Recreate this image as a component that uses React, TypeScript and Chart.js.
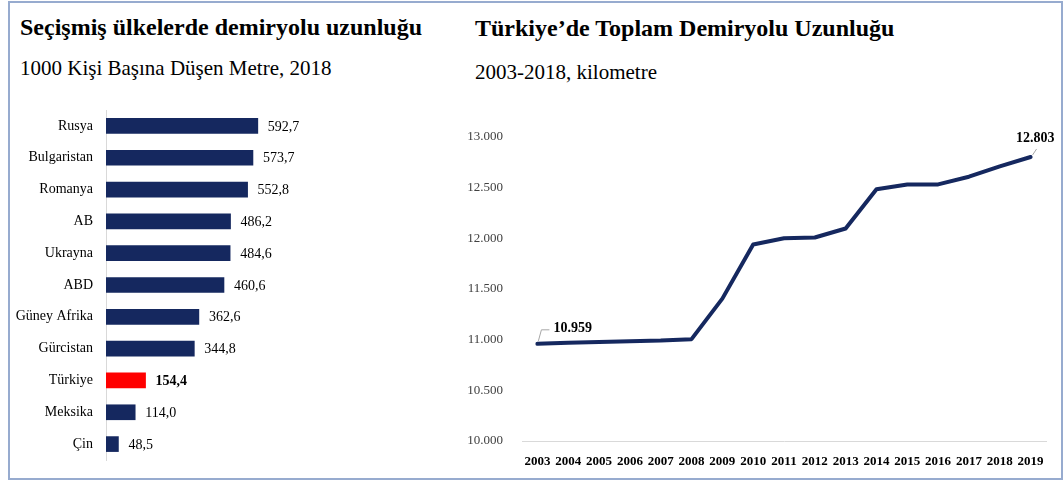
import React, { useEffect, useRef } from "react";
import { Chart, registerables } from "chart.js";

Chart.register(...registerables);

const countries = ["Rusya", "Bulgaristan", "Romanya", "AB", "Ukrayna", "ABD", "Güney Afrika", "Gürcistan", "Türkiye", "Meksika", "Çin"];
const metersPer1000 = [592.7, 573.7, 552.8, 486.2, 484.6, 460.6, 362.6, 344.8, 154.4, 114.0, 48.5];
const highlightCountry = "Türkiye";

const years = ["2003", "2004", "2005", "2006", "2007", "2008", "2009", "2010", "2011", "2012", "2013", "2014", "2015", "2016", "2017", "2018", "2019"];
const railKm = [10959, 10970, 10976, 10984, 10991, 11005, 11405, 11940, 12000, 12008, 12097, 12485, 12532, 12532, 12608, 12710, 12803];
const yTicks = [10000, 10500, 11000, 11500, 12000, 12500, 13000];

const NAVY = "#15285f";
const SERIF = "'Liberation Serif', 'Times New Roman', serif";

const fmtComma = (v: number) => v.toFixed(1).replace(".", ",");
const fmtDot = (v: number) => {
  const s = Math.round(v).toString();
  return s.replace(/\B(?=(\d{3})+(?!\d))/g, ".");
};

const barLabelPlugin = {
  id: "barLabels",
  afterDatasetsDraw(chart: any) {
    const { ctx } = chart;
    const meta = chart.getDatasetMeta(0);
    ctx.save();
    ctx.textBaseline = "middle";
    ctx.textAlign = "left";
    meta.data.forEach((bar: any, i: number) => {
      const bold = countries[i] === highlightCountry;
      ctx.font = `${bold ? "bold " : ""}14px ${SERIF}`;
      ctx.fillStyle = "#000";
      ctx.fillText(fmtComma(metersPer1000[i]), bar.x + 10, bar.y + 1);
    });
    ctx.restore();
  },
};

const lineLabelPlugin = {
  id: "lineLabels",
  afterDatasetsDraw(chart: any) {
    const { ctx } = chart;
    const meta = chart.getDatasetMeta(0);
    const first = meta.data[0];
    const last = meta.data[meta.data.length - 1];
    ctx.save();
    ctx.strokeStyle = "#a6a6a6";
    ctx.lineWidth = 1;
    ctx.beginPath();
    ctx.moveTo(first.x + 1, first.y - 3);
    ctx.lineTo(first.x + 4, first.y - 14);
    ctx.lineTo(first.x + 12, first.y - 14);
    ctx.stroke();
    ctx.beginPath();
    ctx.moveTo(last.x + 2, last.y - 2);
    ctx.lineTo(last.x + 6, last.y - 8);
    ctx.stroke();
    ctx.fillStyle = "#000";
    ctx.font = `bold 14px ${SERIF}`;
    ctx.textBaseline = "middle";
    ctx.textAlign = "left";
    ctx.fillText(fmtDot(railKm[0]), first.x + 16, first.y - 15);
    ctx.textAlign = "right";
    ctx.fillText(fmtDot(railKm[railKm.length - 1]), last.x + 24, last.y - 19);
    ctx.restore();
  },
};

export default function App() {
  const barRef = useRef<HTMLCanvasElement>(null);
  const lineRef = useRef<HTMLCanvasElement>(null);

  useEffect(() => {
    const bar = new Chart(barRef.current!, {
      type: "bar",
      data: {
        labels: countries,
        datasets: [
          {
            data: metersPer1000,
            backgroundColor: countries.map((c) => (c === highlightCountry ? "#ff0000" : NAVY)),
            barThickness: 15,
          },
        ],
      },
      options: {
        indexAxis: "y",
        animation: false,
        responsive: false,
        maintainAspectRatio: false,
        layout: { padding: { top: 10, bottom: 10, left: 0, right: 21 } },
        plugins: { legend: { display: false }, tooltip: { enabled: false } },
        scales: {
          x: { display: false, min: 0, max: 1300 },
          y: {
            afterFit: (s: any) => {
              s.width = 106;
              s.paddingTop = 0;
              s.paddingBottom = 0;
            },
            grid: { display: false, drawTicks: false },
            border: { display: true, color: "#d9d9d9", width: 1 },
            ticks: { color: "#000", font: { family: SERIF, size: 14 }, padding: 13 },
          },
        },
      },
      plugins: [barLabelPlugin],
    });

    const line = new Chart(lineRef.current!, {
      type: "line",
      data: {
        labels: years,
        datasets: [
          {
            data: railKm,
            borderColor: NAVY,
            borderWidth: 4,
            pointRadius: 0,
            tension: 0,
            fill: false,
            borderCapStyle: "round",
            borderJoinStyle: "round",
          },
        ],
      },
      options: {
        animation: false,
        responsive: false,
        maintainAspectRatio: false,
        layout: { padding: { top: 27, bottom: 0, left: 0, right: 17 } },
        plugins: { legend: { display: false }, tooltip: { enabled: false } },
        scales: {
          x: {
            offset: true,
            afterFit: (s: any) => {
              s.height = 42;
              s.paddingLeft = 0;
              s.paddingRight = 0;
            },
            grid: { display: false, drawTicks: false },
            border: { display: true, color: "#d9d9d9", width: 1 },
            ticks: {
              color: "#000",
              font: { family: SERIF, size: 13, weight: "bold" },
              padding: 13,
              autoSkip: false,
              maxRotation: 0,
            },
          },
          y: {
            min: 10000,
            max: 13000,
            afterFit: (s: any) => {
              s.width = 62;
              s.paddingTop = 0;
              s.paddingBottom = 0;
            },
            afterBuildTicks: (s: any) => {
              s.ticks = yTicks.map((v) => ({ value: v }));
            },
            grid: { display: false, drawTicks: false },
            border: { display: false },
            ticks: {
              color: "#404040",
              font: { family: SERIF, size: 13 },
              padding: 19,
              callback: (v: any) => fmtDot(Number(v)),
            },
          },
        },
      },
      plugins: [lineLabelPlugin],
    });

    return () => {
      bar.destroy();
      line.destroy();
    };
  }, []);

  const titleStyle: React.CSSProperties = {
    position: "absolute",
    fontFamily: SERIF,
    fontWeight: "bold",
    fontSize: 24,
    whiteSpace: "nowrap",
    color: "#000",
    lineHeight: "28px",
  };
  const subStyle: React.CSSProperties = {
    position: "absolute",
    fontFamily: SERIF,
    fontSize: 21,
    whiteSpace: "nowrap",
    color: "#000",
    lineHeight: "24px",
  };

  return (
    <div style={{ position: "fixed", left: 0, top: 0, width: 1063, height: 483, background: "#fff", overflow: "hidden" }}>
      <div
        style={{
          position: "absolute",
          left: 8,
          top: 1,
          width: 1051,
          height: 475,
          border: "2px solid #97abcf",
        }}
      />
      <div style={{ ...titleStyle, left: 20, top: 13 }}>Seçişmiş ülkelerde demiryolu uzunluğu</div>
      <div style={{ ...subStyle, left: 20, top: 56 }}>1000 Kişi Başına Düşen Metre, 2018</div>
      <div style={{ ...titleStyle, left: 475, top: 14 }}>Türkiye’de Toplam Demiryolu Uzunluğu</div>
      <div style={{ ...subStyle, left: 475, top: 60 }}>2003-2018, kilometre</div>
      <canvas ref={barRef} width={460} height={370} style={{ position: "absolute", left: 0, top: 100 }} />
      <canvas ref={lineRef} width={603} height={373} style={{ position: "absolute", left: 460, top: 110 }} />
    </div>
  );
}
